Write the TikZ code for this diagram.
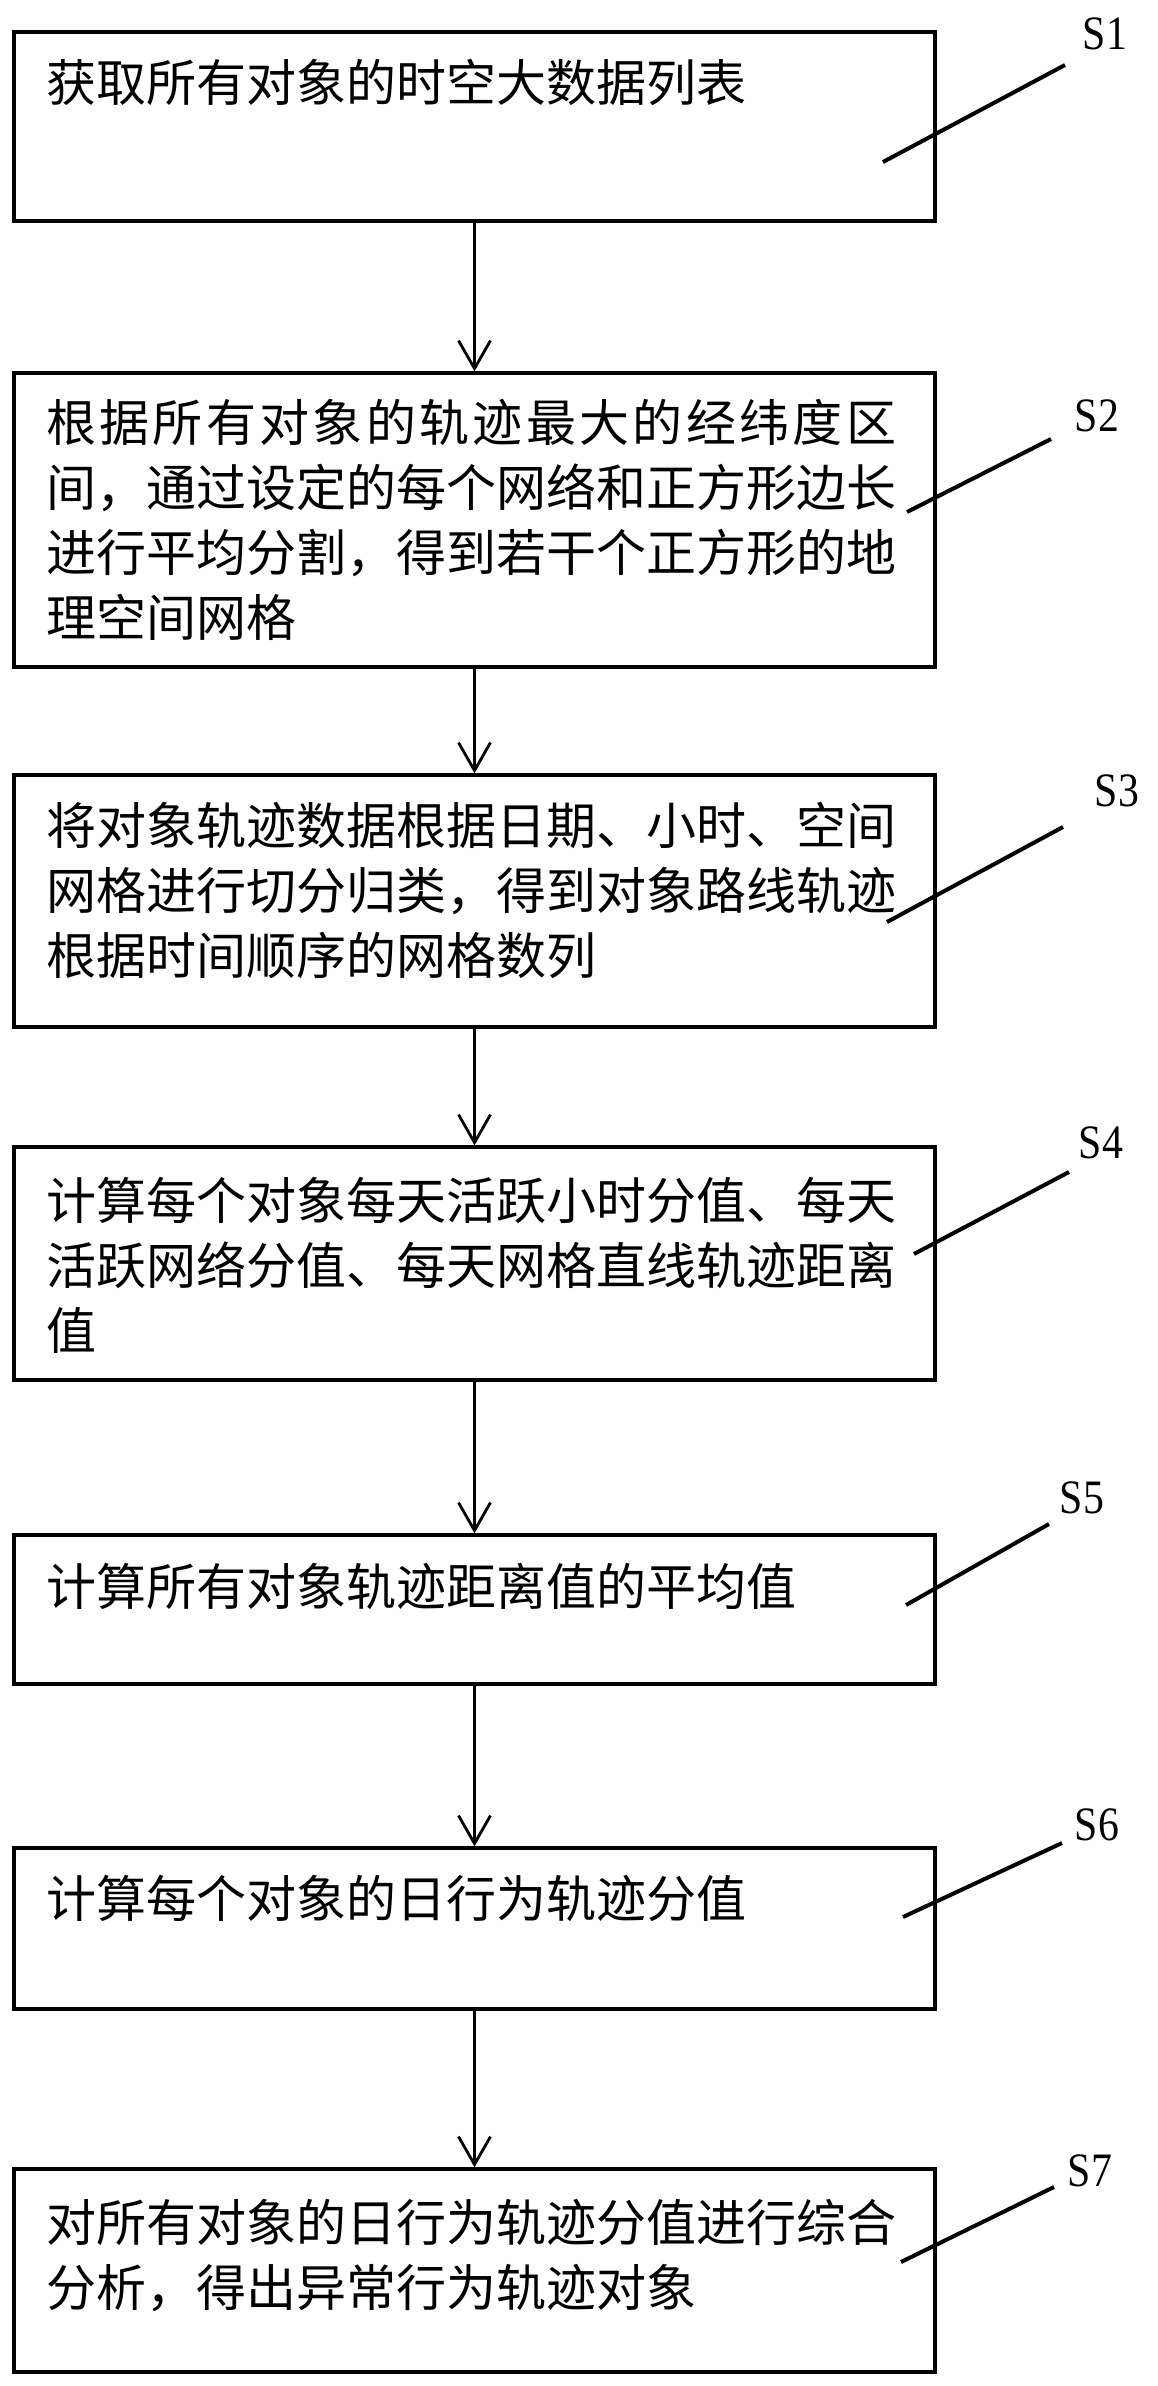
\documentclass[tikz,border=0pt]{standalone}
\usepackage{fontspec}
\newfontfamily\cjkfont{Noto Sans CJK SC}
\newfontfamily\labfont[FakeStretch=0.87]{Liberation Serif}
\usetikzlibrary{arrows.meta}
\begin{document}
\begin{tikzpicture}[x=1pt,y=-1pt,
  stepbox/.style={draw, rectangle, line width=3.3pt, minimum width=921pt, inner sep=0pt},
  steptext/.style={anchor=base west, inner sep=0pt, text width=900pt, align=left,
    font=\cjkfont\fontsize{50}{65}\selectfont},
  steplabel/.style={inner sep=0pt, font=\labfont\fontsize{48}{48}\selectfont},
  leader/.style={line width=4pt},
  flow/.style={line width=2.8pt, -{Straight Barb[length=28pt,width=32pt]}}]
\useasboundingbox (0,0) rectangle (1157,2386);

% boxes
\node[stepbox, minimum height=189pt] (s1) at (474.5,126.5) {};
\node[stepbox, minimum height=294pt] (s2) at (474.5,520) {};
\node[stepbox, minimum height=252pt] (s3) at (474.5,901) {};
\node[stepbox, minimum height=233pt] (s4) at (474.5,1263.5) {};
\node[stepbox, minimum height=149pt] (s5) at (474.5,1609.5) {};
\node[stepbox, minimum height=161pt] (s6) at (474.5,1928.5) {};
\node[stepbox, minimum height=203pt] (s7) at (474.5,2270.5) {};

% texts
\node[steptext] (t1) at (46,101) {获取所有对象的时空大数据列表};
\node[steptext] (t2) at (46,441) {\makebox[850pt][s]{根\hfil 据\hfil 所\hfil 有\hfil 对\hfil 象\hfil 的\hfil 轨\hfil 迹\hfil 最\hfil 大\hfil 的\hfil 经\hfil 纬\hfil 度\hfil 区}\\间，通过设定的每个网络和正方形边长\\进行平均分割，得到若干个正方形的地\\理空间网格};
\node[steptext] (t3) at (46,844) {将对象轨迹数据根据日期、小时、空间\\网格进行切分归类，得到对象路线轨迹\\根据时间顺序的网格数列};
\node[steptext] (t4) at (46,1219) {计算每个对象每天活跃小时分值、每天\\活跃网络分值、每天网格直线轨迹距离\\值};
\node[steptext] (t5) at (46,1605) {计算所有对象轨迹距离值的平均值};
\node[steptext] (t6) at (46,1917) {计算每个对象的日行为轨迹分值};
\node[steptext] (t7) at (46,2241) {对所有对象的日行为轨迹分值进行综合\\分析，得出异常行为轨迹对象};

% flow arrows
\draw[flow] (s1.south) -- (s2.north);
\draw[flow] (s2.south) -- (s3.north);
\draw[flow] (s3.south) -- (s4.north);
\draw[flow] (s4.south) -- (s5.north);
\draw[flow] (s5.south) -- (s6.north);
\draw[flow] (s6.south) -- (s7.north);

% step labels
\node[steplabel] (lab1) at (1105,34) {S1};
\node[steplabel] (lab2) at (1097,416) {S2};
\node[steplabel] (lab3) at (1117,791) {S3};
\node[steplabel] (lab4) at (1101,1143) {S4};
\node[steplabel] (lab5) at (1082,1498) {S5};
\node[steplabel] (lab6) at (1097,1825) {S6};
\node[steplabel] (lab7) at (1090,2171) {S7};

% leader lines
\coordinate (l1a) at (883,162);  \coordinate (l1b) at (1065,65);
\coordinate (l2a) at (907,512);  \coordinate (l2b) at (1051,439);
\coordinate (l3a) at (887,922);  \coordinate (l3b) at (1063,827);
\coordinate (l4a) at (914,1254); \coordinate (l4b) at (1069,1172);
\coordinate (l5a) at (906,1605); \coordinate (l5b) at (1049,1524);
\coordinate (l6a) at (903,1917); \coordinate (l6b) at (1062,1843);
\coordinate (l7a) at (901,2262); \coordinate (l7b) at (1054,2187);
\draw[leader] (l1a) -- (l1b);
\draw[leader] (l2a) -- (l2b);
\draw[leader] (l3a) -- (l3b);
\draw[leader] (l4a) -- (l4b);
\draw[leader] (l5a) -- (l5b);
\draw[leader] (l6a) -- (l6b);
\draw[leader] (l7a) -- (l7b);
\end{tikzpicture}
\end{document}
